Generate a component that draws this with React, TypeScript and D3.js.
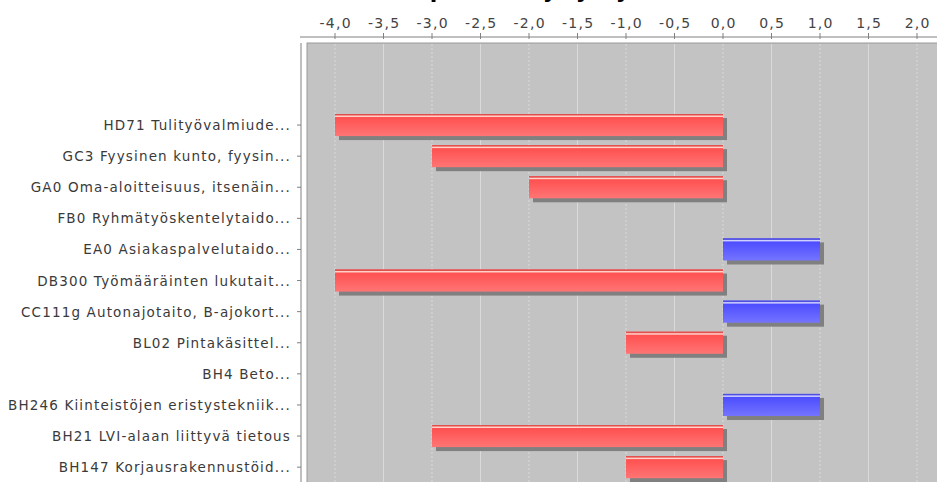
import React from 'react';
import * as d3 from 'd3';

const categories = [
  'HD71 Tulityövalmiude...',
  'GC3 Fyysinen kunto, fyysin...',
  'GA0 Oma-aloitteisuus, itsenäin...',
  'FB0 Ryhmätyöskentelytaido...',
  'EA0 Asiakaspalvelutaido...',
  'DB300 Työmääräinten lukutait...',
  'CC111g Autonajotaito, B-ajokort...',
  'BL02 Pintakäsittel...',
  'BH4 Beto...',
  'BH246 Kiinteistöjen eristystekniik...',
  'BH21 LVI-alaan liittyvä tietous',
  'BH147 Korjausrakennustöid...',
];
const values = [-4, -3, -2, 0, 1, -4, 1, -1, 0, 1, -3, -1];
const tickValues = [-4, -3.5, -3, -2.5, -2, -1.5, -1, -0.5, 0, 0.5, 1, 1.5, 2];
const title = 'Osaamiserot: puutteet ja ylitykset';

const W = 937;
const H = 482;

export default function App() {
  const plotLeft = 307;
  const plotTop = 43;
  const axisY = 37;

  const x = d3.scaleLinear().domain([-4, 0]).range([335, 723]);
  const y = d3.scaleBand<string>()
    .domain(categories)
    .range([109.5, 109.5 + 31.1 * categories.length])
    .paddingInner(0.29)
    .paddingOuter(0.145);

  const fmt = (v: number) => d3.format('.1f')(v).replace('.', ',').replace('−', '-');

  return (
    <svg width={W} height={H} style={{ position: 'absolute', left: 0, top: 0, background: '#fff' }} xmlns="http://www.w3.org/2000/svg">
      <defs>
        <linearGradient id="gRed" x1="0" y1="0" x2="0" y2="1">
          <stop offset="0" stopColor="#ff4a4a" />
          <stop offset="1" stopColor="#ff7575" />
        </linearGradient>
        <linearGradient id="gBlue" x1="0" y1="0" x2="0" y2="1">
          <stop offset="0" stopColor="#4646ff" />
          <stop offset="1" stopColor="#7474ff" />
        </linearGradient>
      </defs>

      {/* title, mostly above the window */}
      <text x={470} y={-2} textAnchor="middle" fontFamily="DejaVu Sans" fontWeight="bold" fontSize={22} fill="#000">{title}</text>

      {/* plot background */}
      <rect x={plotLeft} y={plotTop} width={W - plotLeft + 10} height={H - plotTop + 10} fill="#c3c3c3" stroke="#9a9a9a" strokeWidth={1} />

      {/* grid */}
      {tickValues.map((v, i) => (
        <line key={`grid_${i}`} x1={x(v)} x2={x(v)} y1={plotTop + 1} y2={H} stroke="#dadada" strokeWidth={1} strokeDasharray={i % 2 === 0 ? '2,2' : undefined} />
      ))}

      {/* top axis */}
      <line x1={300} x2={W} y1={axisY} y2={axisY} stroke="#808080" strokeWidth={1} />
      {tickValues.map((v, i) => (
        <g key={`tick_${i}`} transform={`translate(${x(v)}, ${axisY})`}>
          <line x1={0} x2={0} y1={-4} y2={2} stroke="#808080" />
          <text x={0.7} y={-9} textAnchor="middle" fontFamily="DejaVu Sans" fontSize={14} letterSpacing={1.3} fill="#444">{fmt(v)}</text>
        </g>
      ))}

      {/* left axis */}
      <line x1={301} x2={301} y1={plotTop} y2={H} stroke="#808080" strokeWidth={1} />
      {categories.map((c, i) => {
        const cy = (y(c) as number) + y.bandwidth() / 2;
        return (
          <g key={`cat_${i}`} transform={`translate(301, ${cy})`}>
            <line x1={-4} x2={0} y1={0} y2={0} stroke="#808080" />
            <text x={-10} y={5} textAnchor="end" fontFamily="DejaVu Sans" fontSize={13.5} letterSpacing={1.15} fill="#3a3a3a">{c}</text>
          </g>
        );
      })}

      {/* bars */}
      {values.map((v, i) => {
        if (v === 0) return null;
        const c = categories[i];
        const by = y(c) as number;
        const bh = y.bandwidth();
        const x0 = x(Math.min(0, v));
        const x1 = x(Math.max(0, v));
        const neg = v < 0;
        return (
          <g key={`bar_${i}`}>
            <rect x={x0 + 4} y={by + 4} width={x1 - x0} height={bh} fill="#808080" />
            <rect x={x0} y={by} width={x1 - x0} height={bh} fill={neg ? 'url(#gRed)' : 'url(#gBlue)'} />
            <rect x={x0} y={by} width={x1 - x0} height={1.5} fill={neg ? '#e05050' : '#5050e0'} />
            <rect x={x0} y={by + 1.5} width={x1 - x0} height={1.5} fill={neg ? '#ffd2c8' : '#d0d0ff'} />
          </g>
        );
      })}
    </svg>
  );
}
